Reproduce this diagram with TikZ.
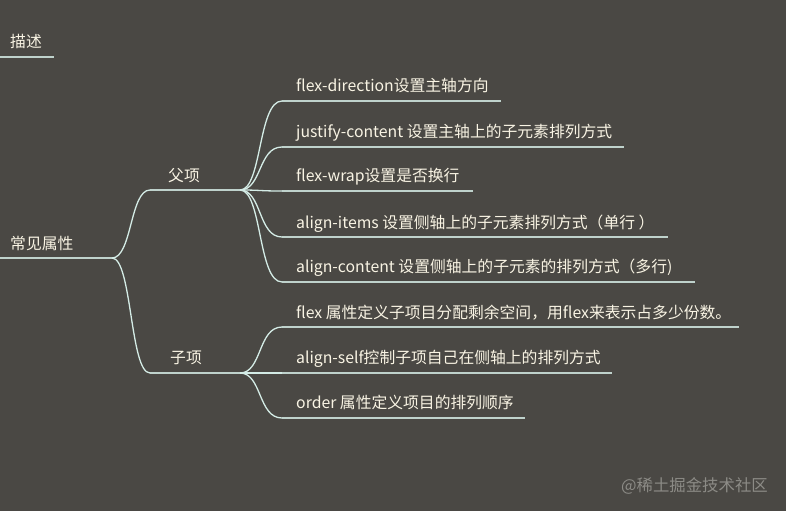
\documentclass[tikz,border=0pt]{standalone}
\usepackage{fontspec}
\setmainfont{Noto Sans CJK SC}
\definecolor{bg}{HTML}{4A4844}
\definecolor{txt}{HTML}{F9F4E4}
\definecolor{ln}{HTML}{D4ECE6}
\definecolor{ulc}{HTML}{BFD2CC}
\definecolor{wm}{HTML}{8C8B86}
\begin{document}
\begin{tikzpicture}[x=1pt,y=-1pt,
  lbl/.style={anchor=base west, inner sep=0pt, text=txt, font=\fontsize{15.8}{18}\selectfont},
  uline/.style={draw=ulc, line width=1.3pt},
  conn/.style={draw=ln, line width=1.3pt},
]
\fill[bg] (0,0) rectangle (786,511);
\useasboundingbox (0,0) rectangle (786,511);

% top-level labels
\node[lbl] (desc) at (10,48) {描述};
\coordinate (descA) at (0,57);
\coordinate (descB) at (54,57);
\draw[uline] (descA) -- (descB);

\node[lbl] (root) at (10,249) {常见属性};
\coordinate (rootA) at (0,258);
\coordinate (rootB) at (112,258);
\draw[uline] (rootA) -- (rootB);

\node[lbl] (fu) at (168,181) {父项};
\coordinate (fuA) at (150,190);
\coordinate (fuB) at (240,190);
\draw[uline] (fuA) -- (fuB);

\node[lbl] (zi) at (170,363) {子项};
\coordinate (ziA) at (150,373);
\coordinate (ziB) at (240,373);
\draw[uline] (ziA) -- (ziB);

\draw[conn] (rootB) .. controls (132,258) and (130,190) .. (fuA);
\draw[conn] (rootB) .. controls (132,258) and (130,373) .. (ziA);

% children of 父项
\node[lbl] (p1) at (296,91) {flex-direction设置主轴方向};
\coordinate (p1A) at (282,101); \coordinate (p1B) at (501,101);
\node[lbl] (p2) at (296,137) {justify-content 设置主轴上的子元素排列方式};
\coordinate (p2A) at (282,147); \coordinate (p2B) at (624,147);
\node[lbl] (p3) at (296,181) {flex-wrap设置是否换行};
\coordinate (p3A) at (282,191); \coordinate (p3B) at (473,191);
\node[lbl] (p4) at (296,228) {align-items 设置侧轴上的子元素排列方式（单行 ）};
\coordinate (p4A) at (282,237); \coordinate (p4B) at (668,237);
\node[lbl] (p5) at (296,272) {align-content 设置侧轴上的子元素的排列方式（多行)};
\coordinate (p5A) at (282,282); \coordinate (p5B) at (695,282);

\foreach \n in {p1,p2,p3,p4,p5}{
  \draw[uline] (\n A) -- (\n B);
}
\draw[conn] (fuB) .. controls (262,190) and (258,101) .. (p1A);
\draw[conn] (fuB) .. controls (262,190) and (258,147) .. (p2A);
\draw[conn] (fuB) .. controls (262,190) and (258,191) .. (p3A);
\draw[conn] (fuB) .. controls (262,190) and (258,237) .. (p4A);
\draw[conn] (fuB) .. controls (262,190) and (258,282) .. (p5A);

% children of 子项
\node[lbl] (c1) at (296,318) {flex 属性定义子项目分配剩余空间，用flex来表示占多少份数。};
\coordinate (c1A) at (282,327); \coordinate (c1B) at (739,327);
\node[lbl] (c2) at (296,363) {align-self控制子项自己在侧轴上的排列方式};
\coordinate (c2A) at (282,373); \coordinate (c2B) at (612,373);
\node[lbl] (c3) at (296,408) {order 属性定义项目的排列顺序};
\coordinate (c3A) at (282,418); \coordinate (c3B) at (525,418);

\foreach \n in {c1,c2,c3}{
  \draw[uline] (\n A) -- (\n B);
}
\draw[conn] (ziB) .. controls (262,373) and (258,327) .. (c1A);
\draw[conn] (ziB) .. controls (262,373) and (258,373) .. (c2A);
\draw[conn] (ziB) .. controls (262,373) and (258,418) .. (c3A);

% watermark
\node[anchor=base east, inner sep=0pt, text=wm, font=\fontsize{16.4}{18}\selectfont] (wmk) at (768,491) {@稀土掘金技术社区};
\end{tikzpicture}
\end{document}
